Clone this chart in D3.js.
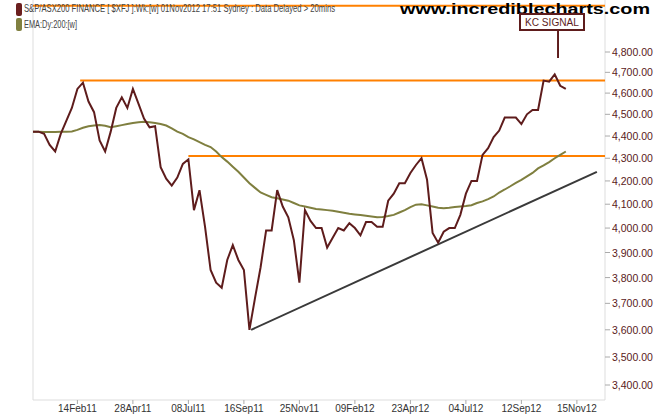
<!DOCTYPE html><html><head><meta charset="utf-8">
<script src="https://cdn.jsdelivr.net/npm/d3@7"></script>
<style>body{margin:0;background:#fff}svg{font-family:Arial,"Liberation Sans",sans-serif}</style></head><body>
<script>
const price=[4420,4420,4410,4360,4330,4410,4470,4530,4620,4650,4560,4510,4380,4330,4420,4530,4580,4530,4620,4550,
4480,4440,4445,4260,4210,4180,4215,4275,4295,4075,4160,4005,3830,3780,3760,3870,3930,3870,3830,3600,
3720,3840,3990,3990,4160,4090,4045,3950,3780,4075,4030,4000,4000,3920,3960,4000,3990,4020,4000,3970,
4025,4025,4005,4005,4115,4145,4190,4190,4235,4270,4300,4205,3980,3940,3985,4000,4000,4055,4145,4200,
4200,4315,4345,4395,4425,4485,4485,4485,4455,4500,4520,4520,4660,4655,4690,4635,4620];
const ema=[4420,4420,4418,4418,4418,4419,4420,4421,4428,4438,4445,4448,4450,4447,4440,4445,4450,4455,4460,4463,
4465,4463,4460,4455,4448,4435,4420,4410,4395,4385,4372,4360,4350,4330,4305,4285,4262,4240,4215,4190,
4170,4150,4140,4130,4125,4120,4115,4105,4095,4090,4085,4080,4078,4075,4072,4068,4064,4060,4057,4054,
4051,4048,4045,4046,4050,4055,4065,4075,4088,4098,4100,4095,4090,4085,4083,4085,4088,4090,4092,4096,
4105,4112,4122,4133,4150,4163,4177,4192,4205,4220,4235,4255,4268,4283,4300,4315,4330];
const xTickLabels=["14Feb11","28Apr11","08Jul11","16Sep11","25Nov11","09Feb12","23Apr12","04Jul12","12Sep12","15Nov12"];
const xTickIdx=[8,18,28,38,48,58,68,78,88,98];
const yTicks=[3400,3500,3600,3700,3800,3900,4000,4100,4200,4300,4400,4500,4600,4700,4800];
const hLines=[{v:4660,from:8.5},{v:4310,from:28},{v:5035,from:0}];
const trend=[{i:39.3,v:3600},{i:101.6,v:4240}];
const signalIdx=94.6;

const W=660,H=420,L=33,R=605,B=400;
const svg=d3.select("body").append("svg").attr("width",W).attr("height",H);
const x=d3.scaleLinear().domain([0,(R-L)/5.55]).range([L,R]);
const y=d3.scaleLog().domain([3400,4800]).range([385,52]);

svg.append("line").attr("x1",L).attr("x2",L).attr("y1",0).attr("y2",B).attr("stroke","#ddd");
svg.append("line").attr("x1",L).attr("x2",R).attr("y1",B).attr("y2",B).attr("stroke","#ddd");
svg.append("line").attr("x1",R).attr("x2",R).attr("y1",0).attr("y2",B).attr("stroke","#ddd");
yTicks.forEach(t=>{
 svg.append("line").attr("x1",R).attr("x2",R+5).attr("y1",y(t)).attr("y2",y(t)).attr("stroke","#aaa");
 svg.append("text").attr("x",R+7).attr("y",y(t)+4).attr("font-size",10.5).attr("fill","#5a1a1a").text(d3.format(",.2f")(t));
});
xTickIdx.forEach((t,k)=>{
 svg.append("line").attr("x1",x(t)).attr("x2",x(t)).attr("y1",B).attr("y2",B+4).attr("stroke","#aaa");
 svg.append("text").attr("x",x(t)).attr("y",B+12).attr("text-anchor","middle").attr("font-size",10).attr("fill","#333").text(xTickLabels[k]);
});
hLines.forEach(h=>svg.append("line").attr("x1",x(h.from)).attr("x2",R).attr("y1",y(h.v)).attr("y2",y(h.v)).attr("stroke","#ff8000").attr("stroke-width",2));
svg.append("line").attr("x1",x(trend[0].i)).attr("y1",y(trend[0].v)).attr("x2",x(trend[1].i)).attr("y2",y(trend[1].v)).attr("stroke","#3a3a3a").attr("stroke-width",2);
const ln=d3.line().x((d,i)=>x(i)).y(d=>y(d));
svg.append("path").attr("d",ln(ema)).attr("fill","none").attr("stroke","#7f7f3f").attr("stroke-width",2);
svg.append("path").attr("d",ln(price)).attr("fill","none").attr("stroke","#5e1c1c").attr("stroke-width",2);
// legend
svg.append("rect").attr("x",16).attr("y",3).attr("width",6).attr("height",13).attr("rx",2).attr("fill","#6b1f1f");
svg.append("text").attr("x",24).attr("y",12).attr("font-size",10).attr("textLength",311).attr("lengthAdjust","spacingAndGlyphs").attr("fill","#444").text("S&P/ASX200 FINANCE [ $XFJ ]:Wk:[w]  01Nov2012 17:51  Sydney : Data Delayed > 20mins");
svg.append("rect").attr("x",16).attr("y",18).attr("width",6).attr("height",13).attr("rx",2).attr("fill","#808040");
svg.append("text").attr("x",24).attr("y",28).attr("font-size",10).attr("textLength",53).attr("lengthAdjust","spacingAndGlyphs").attr("fill","#444").text("EMA:Dy:200:[w]");
svg.append("text").attr("x",400).attr("y",14).attr("font-size",15).attr("font-weight","bold").attr("textLength",250).attr("lengthAdjust","spacingAndGlyphs").attr("fill","#000").text("www.incrediblecharts.com");
// KC signal
svg.append("line").attr("x1",x(signalIdx)).attr("x2",x(signalIdx)).attr("y1",30).attr("y2",58).attr("stroke","#5e1c1c").attr("stroke-width",2);
svg.append("rect").attr("x",520).attr("y",14).attr("width",64).attr("height",16).attr("fill","#fff").attr("stroke","#5e1c1c").attr("stroke-width",2);
svg.append("text").attr("x",552).attr("y",26).attr("text-anchor","middle").attr("font-size",10).attr("textLength",54).attr("lengthAdjust","spacingAndGlyphs").attr("fill","#5e1c1c").text("KC SIGNAL");
</script></body></html>
